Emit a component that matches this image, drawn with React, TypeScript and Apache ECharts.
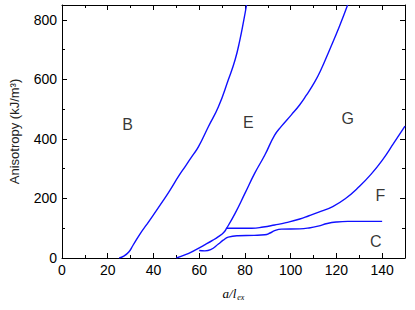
import React, { useEffect, useRef } from "react";
import * as echarts from "echarts";

// Curve data [a/l_ex, anisotropy kJ/m^3]
const curveB: number[][] = [
  [25, 0], [27, 6], [29.3, 21], [31, 42], [34.3, 83], [37, 112], [40, 145], [44, 190],
  [47.4, 230], [51, 275], [54, 309], [57, 343], [59.7, 374], [64, 441], [68.4, 508],
  [72.7, 598], [75.7, 666], [77.8, 733], [79.4, 795], [80.7, 850],
];
const curveE: number[][] = [
  [50, 0], [54, 11], [58, 26], [62.6, 45], [66, 60], [68.4, 72], [70.6, 85], [72, 100],
  [75.7, 150], [80, 217], [84.3, 285], [88.7, 346], [93, 413], [96, 443], [100.3, 481],
  [103.9, 514], [106.8, 546], [110.4, 590], [113, 628], [117, 699], [121.3, 778],
  [124.9, 850],
];
const curveF: number[][] = [
  [72, 100], [78, 100], [83, 100], [88, 104], [93, 111], [98, 119], [104, 131],
  [108, 142], [112, 153], [118.4, 173], [124, 200], [130, 240], [135, 280],
  [140.1, 329], [145, 385], [150, 443],
];
const curveC: number[][] = [
  [60, 25], [62.5, 24], [65, 28], [68.4, 47], [70.5, 60], [72.7, 70], [77, 75],
  [84, 76], [88.7, 78], [91, 84], [93, 92], [96, 97], [104, 98], [108, 101],
  [112, 107], [116, 116], [120, 121], [125, 123], [140, 123],
];
const regionNames = ["B", "E", "G", "F", "C"];
const regionX = [28.7, 81.5, 125, 139.2, 137.2];
const regionY = [447, 455, 469, 210, 55];

const xMajorTicks = { min: 0, max: 150, interval: 20 };
const xMinorInterval = 10;
const yMajorTicks = { min: 0, max: 850, interval: 200 };
const yMinorInterval = 100;

const FONT = "Liberation Sans";

export default function App() {
  const ref = useRef<HTMLDivElement>(null);
  useEffect(() => {
    if (!ref.current) return;
    const chart = echarts.init(ref.current, undefined, { renderer: "svg" });
    const line = { color: "#000", width: 1 };
    const mkX = (position: string, interval: number, len: number, main: boolean) => ({
      type: "value",
      position,
      min: xMajorTicks.min,
      max: xMajorTicks.max,
      interval,
      axisLine: { show: main, onZero: false, lineStyle: line },
      axisTick: { show: true, inside: true, length: len, lineStyle: line },
      axisLabel: {
        show: main && position === "bottom",
        fontSize: 14,
        color: "#000",
        fontFamily: FONT,
        margin: 5,
        formatter: (v: number) => (v === 150 ? "" : String(v)),
      },
      splitLine: { show: false },
      ...(main && position === "bottom"
        ? {
            name: "{a|a/l}{b|ex}",
            nameLocation: "middle",
            nameGap: 27,
            nameTextStyle: {
              rich: {
                a: { fontFamily: "Liberation Serif", fontStyle: "italic", fontSize: 13, color: "#000" },
                b: { fontFamily: "Liberation Serif", fontStyle: "italic", fontSize: 8, color: "#000", padding: [8, 0, 0, 1] },
              },
            },
          }
        : {}),
    });
    const mkY = (position: string, interval: number, len: number, main: boolean) => ({
      type: "value",
      position,
      min: yMajorTicks.min,
      max: yMajorTicks.max,
      interval,
      axisLine: { show: main, onZero: false, lineStyle: line },
      axisTick: { show: true, inside: true, length: len, lineStyle: line },
      axisLabel: {
        show: main && position === "left",
        fontSize: 14,
        color: "#000",
        fontFamily: FONT,
        margin: 5,
        formatter: (v: number) => (v === 850 ? "" : String(v)),
      },
      splitLine: { show: false },
      ...(main && position === "left"
        ? {
            name: "Anisotropy (kJ/m³)",
            nameLocation: "middle",
            nameGap: 41,
            nameTextStyle: { fontFamily: FONT, fontSize: 13, color: "#222" },
          }
        : {}),
    });
    const lineSeries = (data: number[][]) => ({
      type: "line",
      data,
      xAxisIndex: 0,
      yAxisIndex: 0,
      showSymbol: false,
      symbol: "none",
      smooth: true,
      clip: true,
      lineStyle: { color: "#1010ff", width: 1.4 },
      silent: true,
    });
    chart.setOption({
      animation: false,
      grid: { left: 61, right: 10, top: 5, bottom: 52 },
      xAxis: [
        mkX("bottom", xMajorTicks.interval, 5, true),
        mkX("bottom", xMinorInterval, 3, false),
        mkX("top", xMajorTicks.interval, 5, true),
        mkX("top", xMinorInterval, 3, false),
      ],
      yAxis: [
        mkY("left", yMajorTicks.interval, 5, true),
        mkY("left", yMinorInterval, 3, false),
        mkY("right", yMajorTicks.interval, 5, true),
        mkY("right", yMinorInterval, 3, false),
      ],
      series: [
        lineSeries(curveB),
        lineSeries(curveE),
        lineSeries(curveF),
        lineSeries(curveC),
        {
          type: "scatter",
          xAxisIndex: 0,
          yAxisIndex: 0,
          symbolSize: 0,
          silent: true,
          data: regionNames.map((n, i) => ({ name: n, value: [regionX[i], regionY[i]] })),
          label: {
            show: true,
            position: "inside",
            formatter: "{b}",
            fontFamily: FONT,
            fontSize: 16,
            color: "#000",
          },
        },
      ],
    });
    return () => chart.dispose();
  }, []);
  return (
    <div
      ref={ref}
      style={{ position: "fixed", left: 0, top: 0, width: 415, height: 310, background: "#fff" }}
    />
  );
}
